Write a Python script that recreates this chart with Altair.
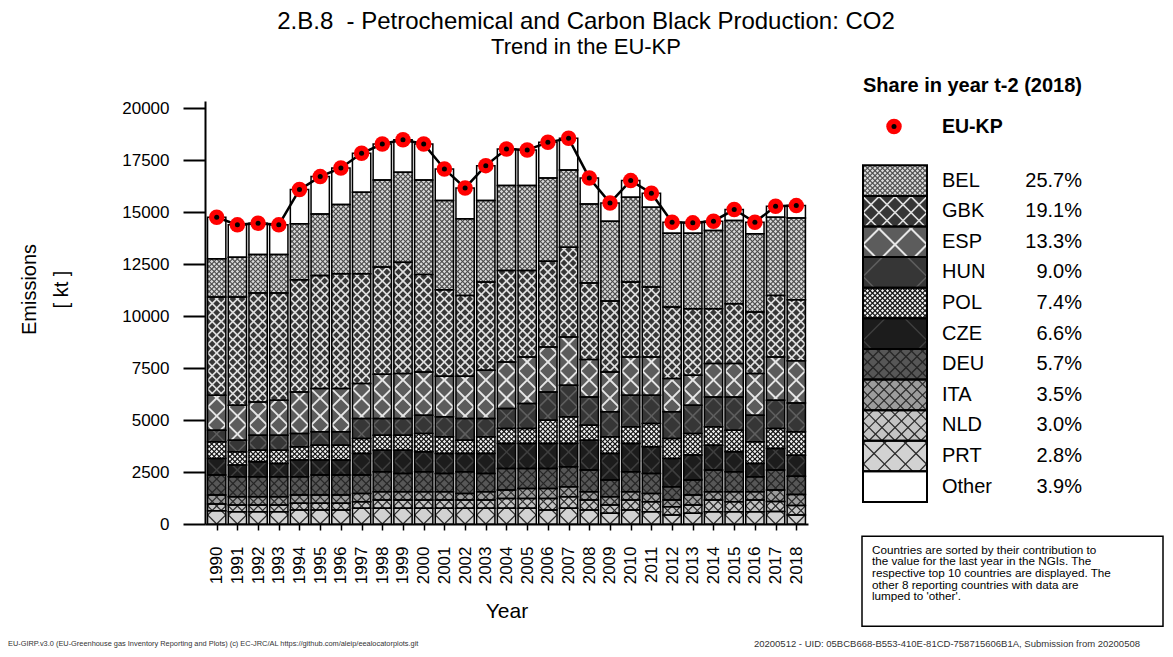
import math
import altair as alt
import pandas as pd

# ---------------- data ----------------
YEARS = list(range(1990, 2019))

# stacking order, bottom -> top
STACK = ["PRT", "NLD", "ITA", "DEU", "CZE", "POL", "HUN", "ESP", "GBK", "BEL", "Other"]

PRT = [640, 592, 592, 592, 672, 672, 672, 752, 752, 752, 752, 752, 752, 752, 752,
       752, 672, 752, 672, 512, 672, 592, 432, 512, 592, 592, 592, 600, 429]
NLD = [320, 320, 320, 320, 320, 320, 320, 320, 400, 400, 400, 400, 400, 400, 480,
       480, 560, 560, 480, 400, 480, 480, 400, 400, 560, 480, 560, 480, 459]
ITA = [432, 400, 400, 400, 400, 400, 400, 400, 400, 400, 400, 400, 320, 400, 400,
       480, 480, 480, 400, 400, 400, 400, 320, 480, 400, 480, 400, 560, 536]
DEU = [960, 960, 960, 960, 880, 960, 960, 880, 960, 880, 960, 880, 1040, 880, 1040,
       960, 960, 960, 1040, 800, 960, 960, 640, 720, 1040, 960, 720, 952, 873]
CZE = [800, 560, 720, 640, 800, 720, 720, 1040, 1040, 1120, 960, 960, 880, 960, 1200,
       1200, 1200, 1120, 1440, 1280, 1360, 1280, 1360, 1200, 1200, 960, 640, 1040, 1010]
POL = [800, 640, 560, 640, 640, 720, 720, 720, 720, 720, 880, 800, 640, 800, 720,
       720, 1120, 1280, 720, 800, 800, 1120, 960, 1040, 880, 1040, 1040, 960, 1133]
HUN = [560, 560, 720, 720, 640, 640, 640, 960, 800, 800, 880, 960, 1040, 880, 960,
       1200, 1360, 1520, 1360, 1200, 1520, 1360, 1280, 1360, 1440, 1600, 1280, 1360, 1378]
ESP = [1680, 1680, 1600, 1680, 2000, 2080, 2080, 1680, 2128, 2160, 2080, 1952, 2032, 2320, 2240,
       2240, 2160, 2320, 1792, 1920, 1840, 1840, 1600, 1440, 1600, 1600, 2000, 2080, 2036]
GBK = [4720, 5200, 5232, 5152, 5392, 5440, 5520, 5280, 5152, 5360, 4688, 4160, 3888, 4240, 4400,
       4160, 4128, 4320, 3680, 3408, 3600, 3360, 3440, 3200, 2640, 2880, 2960, 2960, 2924]
BEL = [1840, 1920, 1856, 1856, 2688, 2960, 3328, 3920, 4192, 4320, 4544, 4288, 3680, 3920, 4080,
       4080, 4000, 3712, 3808, 3840, 4080, 3840, 3552, 3632, 3760, 4000, 3760, 3760, 3935]
OTHER = [2000, 1552, 1504, 1424, 1648, 1792, 1760, 1872, 1728, 1568, 1728, 1520, 1488, 1680, 1760,
         1712, 1712, 1520, 1248, 880, 800, 672, 528, 496, 448, 528, 560, 528, 597]
TOTAL = [14752, 14384, 14464, 14384, 16080, 16704, 17120, 17824, 18272, 18480, 18272, 17072, 16160,
         17232, 18032, 17984, 18352, 18544, 16640, 15440, 16512, 15904, 14512, 14480, 14560, 15120,
         14512, 15280, 15310]

SERIES = {"PRT": PRT, "NLD": NLD, "ITA": ITA, "DEU": DEU, "CZE": CZE, "POL": POL,
          "HUN": HUN, "ESP": ESP, "GBK": GBK, "BEL": BEL, "Other": OTHER}

LEG_NAMES = ["BEL", "GBK", "ESP", "HUN", "POL", "CZE", "DEU", "ITA", "NLD", "PRT", "Other"]
LEG_PCT = ["25.7%", "19.1%", "13.3%", "9.0%", "7.4%", "6.6%", "5.7%", "3.5%", "3.0%", "2.8%", "3.9%"]

Y_TICKS = [0, 2500, 5000, 7500, 10000, 12500, 15000, 17500, 20000]

TITLE = "2.B.8\u00a0 - Petrochemical and Carbon Black Production: CO2"
SUBTITLE = "Trend in the EU-KP"
LEG_TITLE = "Share in year t-2 (2018)"
NOTE = ("Countries are sorted by their contribution to\nthe value for the last year in the NGIs. The\n"
        "respective top 10 countries are displayed. The\nother 8 reporting countries with data are\n"
        "lumped to 'other'.")
FOOT_L = ("EU-GIRP.v3.0 (EU-Greenhouse gas Inventory Reporting and Plots) (c) EC-JRC/AL "
          "https://github.com/aleip/eealocatorplots.git")
FOOT_R = "20200512 - UID: 05BCB668-B553-410E-81CD-758715606B1A, Submission from 20200508"

# ---------------- styles ----------------
FONT = "Liberation Sans"
# fill, hatch line colour, hatch spacing in bars (px), in legend (px), line width
STYLE = {
    "PRT":   ("#d2d2d2", "#2a2a2a", 18, 21, 1.3),
    "NLD":   ("#c4c4c4", "#2a2a2a", 9, 13, 1.2),
    "ITA":   ("#9c9c9c", "#2a2a2a", 9, 11, 1.2),
    "DEU":   ("#575757", "#262626", 9, 11, 1.3),
    "CZE":   ("#1c1c1c", "#3e3e3e", 18, 64, 1.5),
    "POL":   ("#f2f2f2", "#111111", 5, 5, 1.2),
    "HUN":   ("#363636", "#5e5e5e", 18, 64, 1.5),
    "ESP":   ("#5c5c5c", "#e6e6e6", 18, 32, 2.0),
    "GBK":   ("#363636", "#e0e0e0", 9, 16, 1.6),
    "BEL":   ("#dadada", "#4a4a4a", 5, 5, 1.1),
    "Other": ("#ffffff", None, 0, 0, 0),
}

PLOT_W, PLOT_H = 603, 423
Y_MAX = 20340
HALF = 0.442            # half bar width in years
XMIN = 1989.435
XMAX = XMIN + PLOT_W / 20.7
KX = PLOT_W / (XMAX - XMIN)
KY = PLOT_H / Y_MAX


def hatch(X0, X1, Y0, Y1, xc, s):
    """Two families of 45 degree lines clipped to a rectangle (pixel units)."""
    out = []
    if s <= 0:
        return out
    for k in range(math.ceil((Y0 - (X1 - xc)) / s), math.floor((Y1 - (X0 - xc)) / s) + 1):
        c = k * s
        lo = max(X0, Y0 - c + xc)
        hi = min(X1, Y1 - c + xc)
        if hi - lo > 0.3:
            out.append((lo, lo - xc + c, hi, hi - xc + c))
    for k in range(math.ceil((Y0 + (X0 - xc)) / s), math.floor((Y1 + (X1 - xc)) / s) + 1):
        c = k * s
        lo = max(X0, c - Y1 + xc)
        hi = min(X1, c - Y0 + xc)
        if hi - lo > 0.3:
            out.append((lo, c - (lo - xc), hi, c - (hi - xc)))
    return out


# stacked rectangles
rows, hrows = [], []
for j, yr in enumerate(YEARS):
    base = 0
    for c in STACK:
        v = SERIES[c][j]
        rows.append({"x0": yr - HALF, "x1": yr + HALF, "y0": base, "y1": base + v, "country": c})
        fill, lc, s, _, lw = STYLE[c]
        if lc:
            for (xa, ya, xb, yb) in hatch((yr - HALF - XMIN) * KX, (yr + HALF - XMIN) * KX,
                                          base * KY, (base + v) * KY, (yr - XMIN) * KX, s):
                hrows.append({"xa": xa / KX + XMIN, "ya": ya / KY, "xb": xb / KX + XMIN,
                              "yb": yb / KY, "lc": lc, "lw": lw})
        base += v
rect_df = pd.DataFrame(rows)
hatch_df = pd.DataFrame(hrows)
tot_df = pd.DataFrame({"year": YEARS, "total": TOTAL})

color_scale = alt.Scale(domain=STACK, range=[STYLE[c][0] for c in STACK])

# ---------------- main panel ----------------
xs = alt.Scale(domain=[XMIN, XMAX], nice=False, zero=False)
ys = alt.Scale(domain=[0, Y_MAX], nice=False)

yaxis = alt.Axis(values=Y_TICKS, tickCount=len(Y_TICKS), format="d", grid=False,
                 domainColor="black", domainWidth=2,
                 tickColor="black", tickWidth=2, tickSize=22, labelFontSize=17, labelPadding=14,
                 labelColor="black", title=["Emissions", "[ kt ]"], titleFontSize=20,
                 titleFontWeight="normal", titleAngle=270, titleAlign="center",
                 titleBaseline="middle", titleLineHeight=32, titleX=-176, titleY=188,
                 titleColor="black")
xaxis = alt.Axis(values=YEARS, tickCount=len(YEARS) + 5, format="d", labelAngle=270,
                 labelFontSize=17, labelPadding=16,
                 tickSize=6, tickWidth=1.5, tickColor="black", domainColor="black",
                 domainWidth=2, labelColor="black", grid=False, labelFlush=False,
                 labelOverlap=False, title="Year", titleFontSize=21, titleFontWeight="normal",
                 titlePadding=17, titleColor="black")

fills = alt.Chart(rect_df).mark_rect(opacity=1).encode(
    x=alt.X("x0:Q", scale=xs, axis=xaxis), x2="x1:Q",
    y=alt.Y("y0:Q", scale=ys, axis=yaxis), y2="y1:Q",
    color=alt.Color("country:N", scale=color_scale, legend=None),
)
hatches = alt.Chart(hatch_df).mark_rule(strokeCap="butt").encode(
    x=alt.X("xa:Q", scale=xs), y=alt.Y("ya:Q", scale=ys), x2="xb:Q", y2="yb:Q",
    color=alt.Color("lc:N", scale=None), strokeWidth=alt.StrokeWidth("lw:Q", scale=None),
)
outlines = alt.Chart(rect_df).mark_rect(fill="transparent", stroke="black", strokeWidth=1.5).encode(
    x=alt.X("x0:Q", scale=xs), x2="x1:Q", y=alt.Y("y0:Q", scale=ys), y2="y1:Q",
)
line = alt.Chart(tot_df).mark_line(color="black", strokeWidth=2.5).encode(
    x=alt.X("year:Q", scale=xs), y=alt.Y("total:Q", scale=ys))
dots = alt.Chart(tot_df).mark_point(shape="circle", filled=True, color="#ff0000",
                                    size=240, opacity=1).encode(
    x=alt.X("year:Q", scale=xs), y=alt.Y("total:Q", scale=ys))
cent = alt.Chart(tot_df).mark_point(shape="circle", filled=True, color="black",
                                    size=25, opacity=1).encode(
    x=alt.X("year:Q", scale=xs), y=alt.Y("total:Q", scale=ys))

main = alt.layer(fills, hatches, outlines, line, dots, cent).properties(width=PLOT_W, height=PLOT_H)

# ---------------- legend / notes panel ----------------
PW = 309
IDX_LO, IDX_HI = -2.60, 11.22
RH = PLOT_H / (IDX_HI - IDX_LO)
pxs = alt.Scale(domain=[0, PW], nice=False, zero=False)
pys = alt.Scale(domain=[IDX_LO, IDX_HI], reverse=True, nice=False, zero=False)
SW_X0, SW_X1 = 8, 72

leg_rows, leg_h = [], []
for i, (n, p) in enumerate(zip(LEG_NAMES, LEG_PCT)):
    leg_rows.append({"name": n, "pct": p, "idx": i, "y0": i - 0.5, "y1": i + 0.5})
    fill, lc, _, s, lw = STYLE[n]
    if lc:
        for (xa, ya, xb, yb) in hatch(SW_X0, SW_X1, (i - 0.5) * RH, (i + 0.5) * RH,
                                      (SW_X0 + SW_X1) / 2, s):
            leg_h.append({"xa": xa, "ya": ya / RH, "xb": xb, "yb": yb / RH, "lc": lc, "lw": lw})
leg_df = pd.DataFrame(leg_rows)
leg_hatch_df = pd.DataFrame(leg_h)

header = alt.Chart(pd.DataFrame({"t": [LEG_TITLE]})).mark_text(
    align="left", baseline="middle", fontSize=20, fontWeight="bold", color="black").encode(
    x=alt.value(8), y=alt.value(-15), text="t:N")
eu_df = pd.DataFrame({"t": ["EU-KP"]})
eu_dot = alt.Chart(eu_df).mark_point(
    shape="circle", filled=True, color="#ff0000", size=240, opacity=1).encode(
    x=alt.value(39), y=alt.value(25.6))
eu_cent = alt.Chart(eu_df).mark_point(
    shape="circle", filled=True, color="black", size=25, opacity=1).encode(
    x=alt.value(39), y=alt.value(25.6))
eu_txt = alt.Chart(eu_df).mark_text(
    align="left", baseline="middle", fontSize=19.5, fontWeight="bold", color="black").encode(
    x=alt.value(87), y=alt.value(25.6), text="t:N")

sw_fill = alt.Chart(leg_df).mark_rect(opacity=1).encode(
    x=alt.value(SW_X0), x2=alt.value(SW_X1),
    y=alt.Y("y0:Q", scale=pys, axis=None), y2="y1:Q",
    color=alt.Color("name:N", scale=color_scale, legend=None))
sw_hatch = alt.Chart(leg_hatch_df).mark_rule(strokeCap="butt").encode(
    x=alt.X("xa:Q", scale=pxs, axis=None), x2="xb:Q",
    y=alt.Y("ya:Q", scale=pys, axis=None), y2="yb:Q",
    color=alt.Color("lc:N", scale=None), strokeWidth=alt.StrokeWidth("lw:Q", scale=None))
sw_line = alt.Chart(leg_df).mark_rect(fill="transparent", stroke="black", strokeWidth=2).encode(
    x=alt.value(SW_X0), x2=alt.value(SW_X1),
    y=alt.Y("y0:Q", scale=pys, axis=None), y2="y1:Q")
names = alt.Chart(leg_df).mark_text(align="left", baseline="middle", fontSize=20,
                                    color="black").encode(
    x=alt.value(87), y=alt.Y("idx:Q", scale=pys, axis=None), text="name:N")
pcts = alt.Chart(leg_df).mark_text(align="right", baseline="middle", fontSize=20,
                                   color="black").encode(
    x=alt.value(227), y=alt.Y("idx:Q", scale=pys, axis=None), text="pct:N")

notebox = alt.Chart(pd.DataFrame({"t": ["note"]})).mark_rect(
    fill="white", stroke="black", strokeWidth=1.5).encode(
    x=alt.value(7), x2=alt.value(308), y=alt.value(435.3), y2=alt.value(525.3))
notetext = alt.Chart(pd.DataFrame({"t": [NOTE]})).mark_text(
    align="left", baseline="top", fontSize=11.7, lineHeight=11.7, lineBreak="\n",
    color="black").encode(x=alt.value(17), y=alt.value(443.5), text="t:N")
foot_l = alt.Chart(pd.DataFrame({"t": [FOOT_L]})).mark_text(
    align="left", baseline="middle", fontSize=7.4, color="#333333").encode(
    x=alt.value(-847), y=alt.value(543.3), text="t:N")
foot_r = alt.Chart(pd.DataFrame({"t": [FOOT_R]})).mark_text(
    align="right", baseline="middle", fontSize=9.5, color="#333333").encode(
    x=alt.value(285), y=alt.value(543.3), text="t:N")

panel = alt.layer(header, eu_dot, eu_cent, eu_txt, sw_fill, sw_hatch, sw_line, names, pcts,
                  notebox, notetext, foot_l, foot_r).properties(width=PW, height=PLOT_H)

chart = alt.hconcat(main, panel, spacing=47, bounds="flush").resolve_scale(
    x="independent", y="independent", color="independent"
).properties(
    title=alt.TitleParams(text=TITLE, subtitle=SUBTITLE, fontSize=24, subtitleFontSize=22,
                          fontWeight="normal", color="black", subtitleColor="black",
                          anchor="middle", offset=18, subtitlePadding=3, font=FONT,
                          subtitleFont=FONT),
    padding={"left": 0, "top": 2, "right": 0, "bottom": 0},
).configure(font=FONT).configure_view(strokeWidth=0, stroke="transparent")

chart.save("out.html", embed_options={"renderer": "svg", "actions": False})
